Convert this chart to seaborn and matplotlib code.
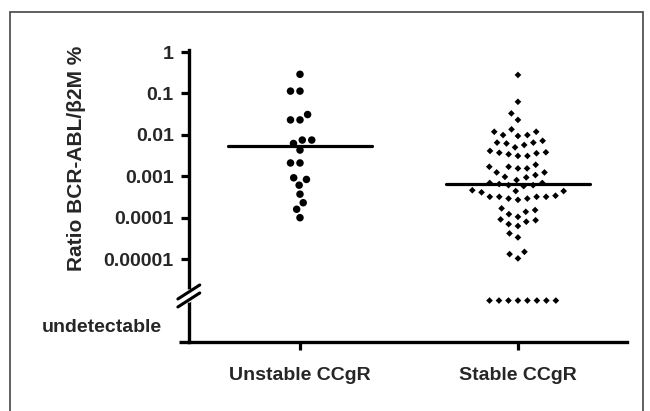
import numpy as np
import pandas as pd
import matplotlib
matplotlib.use('Agg')
import matplotlib.pyplot as plt
import matplotlib.transforms as mtransforms
from matplotlib.patches import Rectangle
from matplotlib.ticker import NullLocator
import seaborn as sns

# valores (Ratio BCR-ABL/B2M %)
groups = ['Unstable CCgR', 'Stable CCgR']

unstable = [0.29, 0.114, 0.114, 0.031, 0.023, 0.023, 0.0075, 0.0075, 0.0062,
            0.0043, 0.0021, 0.0021, 0.00092, 0.00084, 0.00061, 0.00037,
            0.00023, 0.00016, 0.0001]

stable = [0.28, 0.063, 0.033, 0.023, 0.0136,
          0.0119, 0.0119,
          0.0099, 0.0094, 0.0099,
          0.0072,
          0.0062, 0.0057, 0.0065, 0.0065,
          0.0050,
          0.0041,
          0.0038, 0.0034, 0.0031, 0.0031, 0.0036, 0.0037,
          0.0019, 0.00155, 0.00155, 0.0017, 0.0017,
          0.00124, 0.00124, 0.00097, 0.00094, 0.00107,
          0.00081,
          0.00069, 0.00061, 0.00058, 0.00061, 0.00065, 0.00069,
          0.00032, 0.00032, 0.00032, 0.00032, 0.00034, 0.00044, 0.00044,
          0.00041, 0.00046, 0.00029, 0.00029, 0.00027,
          0.000168, 0.000139, 0.000153,
          0.000105, 0.000091, 0.000122, 0.00007, 0.000063, 0.00008, 0.000087,
          0.0000334, 0.0000418,
          0.0000132, 0.000015, 0.0000104]

stable_undetectable = 8

medians = [0.0054, 0.00065]

tick_values = [1, 0.1, 0.01, 0.001, 0.0001, 0.00001]
tick_labels = ['1', '0.1', '0.01', '0.001', '0.0001', '0.00001']

# nível usado para desenhar os indetectáveis abaixo da quebra do eixo
UNDET = 1e-6

df = pd.DataFrame({
    'group': [groups[0]] * len(unstable) + [groups[1]] * (len(stable) + stable_undetectable),
    'value': unstable + stable + [UNDET] * stable_undetectable,
})

sns.set_style('ticks')
plt.rcParams['font.family'] = ['Liberation Sans', 'DejaVu Sans']
plt.rcParams['font.weight'] = 'bold'

fig = plt.figure(figsize=(6.5, 4.11), dpi=100)
ax = fig.add_axes([0.2905, 0.168, 0.674, 0.7104])

sns.swarmplot(data=df[df['group'] == groups[0]], x='group', y='value', order=groups,
              marker='o', color='black', size=5.4, linewidth=1.1, edgecolor='none',
              log_scale=True, ax=ax)
sns.swarmplot(data=df[df['group'] == groups[1]], x='group', y='value', order=groups,
              marker='D', color='black', size=3.4, linewidth=3.1, edgecolor='none',
              log_scale=True, ax=ax)

# medianas
for i, m in enumerate(medians):
    ax.plot([i - 0.33, i + 0.33], [m, m], color='black', lw=2.3, zorder=3)

ax.set_xlim(-0.51, 1.5)
ax.set_ylim(1e-7, 10 ** 0.05)
ax.set_yticks(tick_values, tick_labels)
ax.yaxis.set_minor_locator(NullLocator())

ax.tick_params(axis='both', direction='out', length=5.8, width=2.3,
               labelsize=14, pad=5, color='black')
ax.tick_params(axis='x', pad=12)
for lab in ax.get_xticklabels() + ax.get_yticklabels():
    lab.set_fontweight('bold')

sns.despine(ax=ax)
for s in ['left', 'bottom']:
    ax.spines[s].set_linewidth(2.4)
    ax.spines[s].set_color('black')

ax.set_xlabel('')
ax.set_ylabel('Ratio BCR-ABL/β2M %', fontsize=15, fontweight='bold')
ax.yaxis.set_label_coords(-0.235, 0.63)

trans = mtransforms.blended_transform_factory(ax.transAxes, ax.transData)
ax.text(-0.0615, 10 ** -6.65, 'undetectable', transform=trans, ha='right',
        va='center', fontsize=14, fontweight='bold')

# extensão do eixo x à esquerda
ax.plot([-0.022, 0], [0, 0], color='black', lw=2.4, transform=ax.transAxes,
        clip_on=False, solid_capstyle='butt')

# quebra do eixo y
yb, dy, sx, sy = 0.1575, 0.0137, 0.025, 0.024
ax.plot([0, 0], [yb - dy, yb + dy], color='white', lw=4, transform=ax.transAxes,
        clip_on=False, zorder=5)
for off in (-dy, dy):
    ax.plot([-sx, sx], [yb + off - sy, yb + off + sy], color='black', lw=2.2,
            transform=ax.transAxes, clip_on=False, zorder=6)

# moldura
fig.patches.append(Rectangle((10 / 650, -0.05), 633 / 650, 1.021, transform=fig.transFigure,
                             fill=False, lw=1.2, ec='#444444'))

fig.savefig('out.png', dpi=100)
